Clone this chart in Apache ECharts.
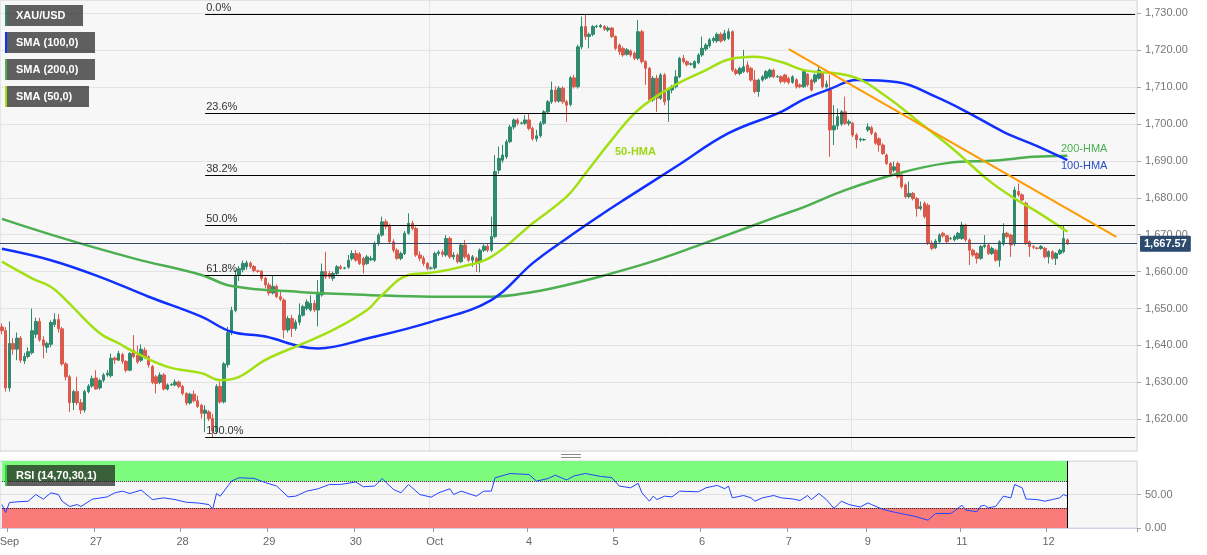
<!DOCTYPE html>
<html><head><meta charset="utf-8">
<script src="https://cdn.jsdelivr.net/npm/echarts/dist/echarts.min.js"></script>
<style>html,body{margin:0;padding:0;background:#fff}#c{width:1207px;height:555px}</style>
</head><body><div id="c"></div>
<script>
// ---- hourly candles [open, close, low, high], grouped by trading day ----
const sep26 = [[1645,1644,1643,1646],[1644,1628.5,1627.5,1645],[1628.5,1640.5,1627.5,1646.5],[1640.5,1639,1637.5,1642],[1639,1642,1636,1643.5],[1642,1636,1635.3,1642.5],[1635.8,1637,1635,1638],[1637,1638.3,1636.5,1639.5],[1638,1644,1637.5,1650],[1643,1646.5,1642,1647.5],[1646.5,1641.5,1641,1647.5],[1641.5,1640,1636.5,1642.5],[1639.5,1640.5,1638,1641],[1640.3,1646.2,1639.5,1646.8],[1645.7,1647,1645,1648.7],[1647,1644.5,1643.5,1648.5],[1644.5,1635,1634.5,1645],[1635,1631.5,1630.5,1635.5],[1631.5,1624.5,1622,1632],[1624.5,1627.5,1622.5,1628],[1627.5,1624.5,1623.8,1631.5],[1624.5,1622.5,1621.4,1625.5],[1622.5,1627.5,1621.8,1628],[1627.5,1629,1627,1629.5],[1629,1631,1628.5,1631.8]];
const sep27 = [[1631.2,1628.2,1628,1633.3],[1628.5,1630.5,1628,1631],[1630.6,1632,1630,1632.5],[1632,1632.5,1631.5,1633.3],[1631.8,1636.5,1631.3,1637.8],[1636.6,1636.1,1635,1637],[1636,1637.8,1635.8,1638.5],[1637.5,1635.7,1635,1638],[1635.7,1633.3,1632.7,1636],[1633.3,1637.8,1633,1638.2],[1638.7,1637,1636.5,1642.8],[1637.3,1635.5,1635,1640],[1636,1639,1635.5,1640.3],[1638.7,1636.9,1636.5,1639.5],[1636.9,1634.7,1634,1637.3],[1634.3,1630,1629.5,1634.7],[1631.5,1629.7,1627,1632],[1630,1632,1629.5,1632.7],[1632,1628.2,1627.8,1632.5],[1628.2,1629.3,1627.8,1629.7],[1629.3,1629.4,1629,1629.8],[1629.3,1630.1,1628.9,1630.8],[1630.1,1628.9,1628.4,1630.5]];
const sep28 = [[1628.9,1627,1626.5,1629.3],[1627,1624.4,1623.8,1627.3],[1624.4,1626.8,1624,1627.2],[1626.8,1625,1624.5,1627.8],[1625,1623.5,1623,1626.4],[1623.8,1621.6,1620.2,1624.2],[1621.6,1622.5,1616.5,1623.8],[1622,1620.2,1619.5,1622.5],[1620.2,1616.8,1614.9,1621.5],[1616.6,1628.9,1616,1629.5],[1628.9,1624.7,1624.2,1630.2],[1624.7,1635,1624.3,1635.5],[1634.8,1643.5,1634,1645],[1643.5,1649.5,1642.8,1650.5],[1649.5,1659,1649,1660.5],[1659,1660.8,1657.5,1661.5],[1660.5,1662.2,1659.8,1663],[1661.3,1662.4,1660.5,1663],[1662.3,1661.4,1660.8,1662.8],[1661.4,1660.3,1659.8,1661.8],[1660.2,1660.1,1659.7,1660.5],[1660.1,1658.2,1657.5,1660.4],[1658.2,1656.4,1655.5,1658.6]];
const sep29 = [[1656.4,1654.2,1653.5,1657],[1654.2,1656,1653.8,1659.1],[1656,1653.2,1652.8,1656.5],[1653.2,1652.5,1652,1655],[1652.3,1644.2,1641.9,1652.8],[1644.2,1647.3,1643.5,1648],[1647.3,1644.6,1642.3,1648.3],[1644.6,1646.3,1644,1647],[1646.3,1648.2,1645.5,1651.4],[1648.2,1650.5,1647.8,1651],[1650,1651.8,1649.5,1652.5],[1649.6,1651.4,1649.2,1653.6],[1651.4,1649.6,1649,1652.3],[1649.6,1654,1645.2,1657.7],[1653.7,1660,1653.2,1662.2],[1660,1658.6,1658,1665.4],[1659.5,1658.6,1658,1660.2],[1658.2,1659.5,1657.5,1660],[1659.5,1661.3,1659,1661.8],[1661.3,1660.9,1660.5,1661.8],[1660.9,1661,1660.6,1661.3],[1661.2,1663.1,1660.8,1664.5],[1663.5,1664.9,1663,1665.8]];
const sep30 = [[1664.9,1663.1,1662.7,1665.8],[1664.8,1662.2,1661.8,1665.3],[1663.6,1661.8,1659.5,1664],[1662.2,1664,1661.8,1664.5],[1663.2,1663.6,1662.8,1664.3],[1663.1,1667.6,1662.6,1668.2],[1667.6,1669.9,1667,1670.5],[1669.9,1673.5,1669.5,1674.9],[1673.5,1672.2,1671.5,1674.2],[1672.4,1668.1,1667.5,1673],[1668.1,1665.8,1665.2,1668.8],[1665.8,1663.6,1663.2,1666.3],[1663.6,1664.9,1663.1,1665.4],[1664.9,1670.4,1664.5,1671],[1670.4,1673.1,1670,1675.8],[1673.1,1671.7,1671.2,1673.8],[1671.7,1664.5,1664,1672.2],[1664.5,1663.6,1662.8,1665.5],[1663.6,1662.2,1661.5,1664.3],[1662.2,1660.9,1660.3,1662.6],[1660.9,1661,1660.5,1661.4]];
const oct3 = [[1661,1664.9,1660.5,1665.4],[1664.9,1665.3,1664.3,1665.8],[1665.3,1664.7,1664,1666],[1664.5,1669,1664,1669.9],[1669,1664,1663.5,1669.5],[1664,1664.5,1663.2,1665.3],[1664.5,1662.7,1662.2,1665],[1662.7,1667.2,1662.3,1667.7],[1667.2,1664,1663.5,1668.6],[1664.5,1663.1,1662.6,1665],[1663.1,1664,1661.3,1664.5],[1663.6,1662.2,1659.9,1664],[1662.7,1665.8,1659.8,1666.3],[1665.8,1666.9,1665.3,1667.4],[1666.9,1665.8,1665.3,1667.5],[1665.8,1669.5,1665.3,1674.9],[1669.5,1687.1,1669,1691.6],[1687.5,1690.7,1686.5,1693.9],[1690.2,1691.6,1689.5,1694.3],[1691.1,1695.2,1690.5,1695.8],[1695.2,1699.2,1694.8,1699.8],[1699.2,1701.1,1698.5,1701.5],[1701.1,1700.2,1699.6,1701.6],[1700.2,1700.3,1699.9,1700.6],[1700.2,1701.1,1699.7,1702.4]];
const oct4 = [[1701.1,1698.8,1698.3,1702.7],[1698.8,1696,1695.5,1699.3],[1696,1696.8,1695.2,1698.4],[1696.8,1700.2,1696.3,1700.8],[1700.2,1703.3,1699.8,1703.8],[1703.3,1706,1702.8,1706.5],[1706,1709.2,1705.5,1711.5],[1709.2,1706.2,1705.8,1710.2],[1706.2,1709.7,1705.8,1710.3],[1709.7,1706,1705.5,1710.2],[1706,1705.1,1700.6,1706.5],[1705.3,1712.5,1704.8,1713],[1712.5,1710.1,1709.6,1713.3],[1710.1,1720.9,1709.6,1721.5],[1720.9,1726.4,1720.3,1729.1],[1726.4,1723.7,1722.8,1729.8],[1723.7,1724.3,1720.5,1724.8],[1724.3,1726.4,1723.8,1726.8],[1726.4,1726.5,1726,1726.9],[1726.3,1726.7,1726,1727.1],[1726.4,1725.7,1725.2,1726.8],[1725.5,1726,1725,1726.5],[1726,1723.7,1723.3,1726.3]];
const oct5 = [[1723.7,1720.5,1720,1724],[1721.4,1719.6,1718.7,1721.8],[1720.5,1718.7,1718.2,1721],[1718.9,1720.1,1718.5,1720.6],[1719.8,1718.7,1718.2,1720.2],[1719.2,1717.8,1717.3,1719.6],[1717.8,1725,1717.3,1728.2],[1725,1716.9,1716.4,1725.5],[1716.9,1715.1,1710.6,1717.3],[1715.1,1706.5,1706,1715.5],[1706.5,1712.4,1706,1713],[1712.4,1707,1703.3,1713.3],[1707,1713.3,1706.5,1713.8],[1713.3,1706,1705.1,1713.8],[1706.5,1709.2,1700.6,1709.7],[1709.2,1710.1,1708.3,1710.6],[1710.1,1712.8,1709.6,1714.6],[1712.8,1717.8,1712.4,1718.2],[1717.8,1716.9,1716.4,1718.7],[1716.9,1716.1,1715.6,1717.3],[1716.2,1716.3,1715.8,1716.7],[1715.3,1716.9,1715,1717.3],[1716.6,1718.7,1716.2,1719.2]];
const oct6 = [[1718.7,1720.5,1718.2,1723.7],[1720.3,1721.4,1719.8,1721.9],[1721.2,1722.8,1720.7,1723.3],[1722.6,1723.2,1722,1723.7],[1722.5,1724.3,1722,1724.8],[1724.3,1722.5,1722,1724.8],[1722.8,1724.6,1722.4,1725.5],[1723.2,1725,1722.8,1725.9],[1725,1714.6,1714.1,1725.4],[1714.6,1713.7,1713.2,1715.1],[1713.7,1715.1,1713.2,1715.5],[1714.2,1715.5,1713.8,1720.1],[1716,1714.2,1713.8,1717],[1715.1,1711.9,1711.5,1715.5],[1711.9,1708.8,1708.3,1714.6],[1708.8,1711.9,1707.4,1712.3],[1711.9,1712.8,1711.5,1713.3],[1712.4,1714.2,1712,1714.6],[1712.8,1714.6,1712.4,1715],[1714.6,1712.8,1712.4,1715],[1712.8,1712.9,1712.5,1713.2],[1712.8,1711.5,1711,1713.2],[1713.3,1711.5,1711,1713.6]];
const oct7 = [[1712.4,1711.3,1710.8,1712.8],[1711.3,1712.8,1710.9,1713.2],[1712,1710.1,1709.6,1712.4],[1710.6,1710.1,1709.7,1711],[1710.1,1714.2,1709.8,1714.6],[1713.5,1710.6,1710.1,1713.8],[1711.9,1709.2,1708.8,1712.3],[1711.5,1713.3,1711,1713.7],[1712.4,1714.6,1712,1715.5],[1713.7,1710.1,1709.6,1714.2],[1710.1,1710.8,1709.6,1711.8],[1709.2,1698.4,1691.1,1713.3],[1698.4,1699.5,1694.3,1705.1],[1699.5,1702,1698.5,1704.2],[1700,1703.3,1699.5,1703.8],[1703.3,1700.2,1699.7,1707.4],[1700.2,1700.6,1699.5,1701.2],[1700.2,1697,1696.5,1700.6],[1697,1695.7,1693.4,1697.5],[1695.7,1695.9,1695.2,1696.3],[1695.7,1695.8,1695.4,1696.1]];
const oct10 = [[1698.4,1699.2,1697.9,1700.2],[1699,1697.5,1697,1699.5],[1697.5,1694.8,1694.4,1697.9],[1696,1694.3,1692.5,1696.4],[1694.3,1692,1691.6,1694.8],[1691.6,1689.3,1688.9,1692],[1689.3,1686.6,1685.7,1689.7],[1687.5,1688.4,1687,1689.8],[1689.3,1685.7,1685.2,1689.8],[1686.2,1683,1682.5,1686.6],[1683.5,1680.3,1679.8,1683.9],[1680.3,1681.2,1679.9,1684.4],[1681.2,1679.8,1679.3,1681.6],[1679.8,1677.1,1674.9,1680.2],[1677.1,1677.6,1676.6,1679],[1678.5,1674.9,1674.4,1679],[1678,1667.7,1667.2,1678.5],[1667.7,1666.3,1665.8,1668.4],[1666.5,1668.3,1666.1,1668.8],[1668.1,1669.9,1667.7,1670.4],[1670.4,1669.7,1669.2,1670.8],[1669.7,1668.1,1667.7,1670],[1668.9,1669,1668.6,1669.4],[1668.6,1669.5,1668.2,1669.9],[1669,1670.4,1668.6,1670.8]];
const oct11 = [[1669,1672.6,1668.6,1673.5],[1672.6,1668.6,1668.1,1673],[1668.6,1665.8,1661.8,1669],[1665.8,1664.5,1664,1666.2],[1664.9,1663.6,1662.2,1665.3],[1663.6,1666.8,1663.2,1667.2],[1666.8,1667.2,1666.3,1669.9],[1667.2,1664.9,1664.5,1667.6],[1664.9,1666.3,1664.5,1666.8],[1665.8,1663.1,1662.7,1666.2],[1663.1,1668.1,1661.3,1668.5],[1667.5,1670.4,1667,1673.1],[1670.4,1669.5,1669,1670.8],[1669.9,1667.2,1664,1670.3],[1667.5,1682.1,1667,1683],[1681.7,1680.8,1680.3,1683.9],[1680.8,1679.4,1678.9,1681.2],[1678.5,1667.7,1667.2,1679],[1668.1,1666.8,1664,1668.5],[1666.8,1666.6,1666.1,1667.2],[1666.4,1666.3,1666,1666.7],[1666.3,1666.8,1665.9,1667.2],[1666.3,1664,1663.6,1666.7]];
const oct12 = [[1664,1665.4,1662.2,1665.8],[1665.4,1663.6,1663.2,1665.8],[1663.6,1664.9,1661.8,1665.3],[1664.9,1665.8,1664.5,1666.2],[1665.4,1669,1665,1672.6],[1668.6,1667.57,1667.2,1669]];

// ---- moving averages [candle index, value] ----
const sma50Points = [[0,1662.7],[8,1658.2],[13,1655.9],[17,1652.3],[26,1643.3],[31,1640.6],[35,1638.3],[44,1634.2],[53,1632.5],[58,1630.6],[63,1631.5],[70,1636.1],[79,1640.1],[88,1644.2],[97,1649.6],[101,1653.7],[108,1659.1],[114,1659.7],[122,1661.3],[130,1664.0],[141,1673.1],[150,1680.3],[155,1686.6],[162,1695.7],[169,1703.8],[178,1710.1],[187,1714.6],[193,1717.5],[200,1718.2],[207,1716.8],[213,1714.6],[226,1712.8],[235,1707.4],[244,1700.2],[253,1692.9],[262,1684.8],[269,1679.8],[275,1676.2],[283,1670.8]];
const sma100Points = [[0,1666.2],[13,1663.1],[26,1658.6],[39,1653.2],[53,1647.8],[61,1643.7],[70,1642.4],[79,1639.8],[84,1639.2],[97,1641.9],[114,1646.4],[130,1652.3],[141,1662.3],[150,1669.0],[159,1675.3],[165,1679.3],[179,1688.4],[193,1697.5],[207,1703.3],[213,1706.7],[220,1709.5],[227,1711.9],[238,1711.3],[248,1707.4],[257,1702.9],[266,1697.9],[275,1694],[283,1690.2]];
const sma200Points = [[0,1674.3],[17,1668.8],[35,1663.6],[53,1659.1],[61,1656.1],[79,1654.5],[97,1653.7],[114,1653.2],[130,1653.2],[141,1654.5],[150,1656.4],[159,1658.7],[172,1662.5],[185,1667.1],[199,1672.3],[207,1675.3],[213,1677.5],[224,1682.1],[238,1686.6],[251,1689.4],[264,1690.1],[274,1691.1],[283,1691.4]];
const trendPoints = [[209,1720.3],[296,1669.4]];
const rsiPoints = [[0,35],[1,23],[2,38],[4,39],[7,40],[9,50],[11,43],[13,52.5],[15,50],[16,40],[18,32],[20,35],[21,32],[24,43],[28,46.5],[30,52.5],[32,55],[34,51.5],[37,56.6],[40,42.4],[43,45],[46,42.4],[49,38.4],[52,37.4],[55,35],[56,28.3],[57,51.5],[58,47.5],[61,70],[63,75],[67,74],[70,67.7],[73,62.6],[76,46.5],[78,47.5],[81,55],[84,58.6],[87,65],[90,65],[94,68.7],[96,61.6],[99,62.6],[101,73.7],[104,57.6],[106,52.5],[108,65],[111,50],[114,46],[116,52.5],[119,58.6],[120,50],[122,55],[126,47.5],[128,55],[130,55],[131,75],[135,81.3],[140,79.8],[142,70],[145,73.7],[147,78.8],[150,71.7],[152,77.8],[155,81.3],[159,77],[162,75.3],[164,62.6],[167,60],[169,66.7],[170,52.5],[172,40],[173,47.5],[174,42.4],[176,47.5],[178,46.5],[180,55],[185,54],[187,60],[190,63.6],[192,58.6],[193,62.6],[194,45],[197,48.5],[199,45],[200,40],[202,45],[205,48.5],[207,45],[210,43.4],[212,41],[214,48.5],[215,42.4],[217,51.5],[219,42.4],[221,29.3],[223,40],[225,35],[228,31.3],[230,37.4],[231,35],[234,27.8],[237,23.7],[240,20.2],[243,16.7],[246,11.6],[248,21.7],[252,21.7],[253,25.3],[255,34],[256,26.8],[259,24.2],[260,32.8],[261,33.8],[262,30],[264,32.3],[266,47.5],[268,45],[269,65],[271,60],[272,43.4],[275,42.4],[277,40],[279,42.4],[281,45],[282,50],[283,47.5]];

// ---- levels and labels ----
const fibLevels = [1729.8, 1702.9, 1686.1, 1672.5, 1658.9, 1615.0];
const fibLabels = ['0.0%', '23.6%', '38.2%', '50.0%', '61.8%', '100.0%'];
const fibStart = 54, fibEnd = 301;
const lastPrice = 1667.57;
const rsiUpper = 70, rsiLower = 30;
const tickIndex = [2, 25, 48, 71, 94, 115, 140, 163, 186, 209, 230, 255, 278];
const tickLabels = ['Sep', '27', '28', '29', '30', 'Oct', '4', '5', '6', '7', '9', '11', '12'];
const weekSplits = [114, 226];
const slotCount = 302;

const candles = [].concat(sep26, sep27, sep28, sep29, sep30, oct3, oct4, oct5, oct6, oct7, oct10, oct11, oct12);
const categories = Array.from({length: slotCount}, (_, i) => String(i));
const lastIdx = candles.length - 1;

const FONT = 'Liberation Sans, Arial, sans-serif';
const UP = '#2f8a6e', DOWN = '#dc5a4b';
const C50 = '#a2e012', C100 = '#1030ff', C200 = '#4caf50';

const fmt = v => v.toLocaleString('en-US', {minimumFractionDigits: 2, maximumFractionDigits: 2});

const fibLines = fibLevels.map((lv, k) => [
  {coord: [fibStart, lv], label: {show: true, formatter: fibLabels[k], position: 'insideStartTop', distance: [1, 1], color: '#333', fontSize: 11, fontFamily: FONT}},
  {coord: [fibEnd, lv]}
]);

function labelBox(x, y, w, text, barColor) {
  return {type: 'group', x: x, y: y, zlevel: 1, children: [
    {type: 'rect', z: 100, shape: {x: 0, y: 0, width: w, height: 21}, style: {fill: 'rgba(30,30,30,0.7)'}},
    {type: 'rect', z: 101, shape: {x: 0, y: 0, width: 2, height: 21}, style: {fill: barColor}},
    {type: 'text', z: 102, x: 11, y: 11, style: {text: text, fill: '#fff', font: 'bold 11px ' + FONT, verticalAlign: 'middle'}}
  ]};
}
const legendItems = [['XAU/USD', UP, 78], ['SMA (100,0)', C100, 90], ['SMA (200,0)', C200, 90], ['SMA (50,0)', C50, 84]];
const graphics = [];
legendItems.forEach((it, k) => graphics.push(labelBox(5, 5 + 27 * k, it[2], it[0], it[1])));
graphics.push(labelBox(5, 465, 110, 'RSI (14,70,30,1)', '#2ecc40'));
graphics.push({type: 'text', x: 615, y: 152, z: 50, style: {text: '50-HMA', fill: '#9fd813', font: 'bold 11px ' + FONT, verticalAlign: 'middle'}});
graphics.push({type: 'text', x: 1061, y: 149, z: 50, style: {text: '200-HMA', fill: C200, font: '11px ' + FONT, verticalAlign: 'middle'}});
graphics.push({type: 'text', x: 1061, y: 166, z: 50, style: {text: '100-HMA', fill: '#2a4ec8', font: '11px ' + FONT, verticalAlign: 'middle'}});
graphics.push({type: 'line', shape: {x1: 561, y1: 454.5, x2: 581, y2: 454.5}, style: {stroke: '#888', lineWidth: 1}});
graphics.push({type: 'line', shape: {x1: 561, y1: 457.5, x2: 581, y2: 457.5}, style: {stroke: '#888', lineWidth: 1}});

const splitFn = (i) => weekSplits.indexOf(i) >= 0;
const tickFn = (i) => tickIndex.indexOf(i) >= 0;

const chart = echarts.init(document.getElementById('c'), null, {renderer: 'canvas'});
chart.setOption({
  animation: false,
  backgroundColor: '#ffffff',
  textStyle: {fontFamily: FONT},
  grid: [
    {left: 0, top: 0, width: 1137, height: 451, show: true, backgroundColor: '#f7f7f7', borderColor: '#d0d6e8', borderWidth: 1, outerBoundsMode: 'none', containLabel: false},
    {left: 0, top: 461, width: 1137, height: 67, show: true, backgroundColor: '#f7f7f7', borderColor: '#d0d6e8', borderWidth: 1, outerBoundsMode: 'none', containLabel: false}
  ],
  xAxis: [
    {type: 'category', gridIndex: 0, data: categories, boundaryGap: true,
     axisLine: {show: false}, axisTick: {show: false}, axisLabel: {show: false},
     splitLine: {show: true, interval: splitFn, lineStyle: {color: '#e4e4e4'}}},
    {type: 'category', gridIndex: 1, data: categories, boundaryGap: true,
     axisLine: {show: true, lineStyle: {color: '#ccd2e3'}},
     axisTick: {show: true, interval: tickFn, length: 4, lineStyle: {color: '#999'}},
     axisLabel: {interval: tickFn, formatter: (v, i) => tickLabels[tickIndex.indexOf(i)] || '', color: '#666', fontSize: 11, margin: 8, fontFamily: FONT},
     splitLine: {show: true, interval: splitFn, lineStyle: {color: '#e4e4e4'}}}
  ],
  yAxis: [
    {type: 'value', gridIndex: 0, position: 'right', min: 1611.4, max: 1733.6, splitNumber: 12,
     axisLine: {show: false}, axisTick: {show: true, length: 4, lineStyle: {color: '#aaa'}},
     axisLabel: {showMinLabel: false, showMaxLabel: false, color: '#777', fontSize: 11, margin: 8, fontFamily: FONT, formatter: fmt},
     splitLine: {show: true, lineStyle: {color: '#e3e3e3'}}},
    {type: 'value', gridIndex: 1, position: 'right', min: 0, max: 100, interval: 50,
     axisLine: {show: false}, axisTick: {show: true, length: 4, lineStyle: {color: '#aaa'}},
     axisLabel: {showMaxLabel: false, color: '#777', fontSize: 11, margin: 8, fontFamily: FONT, formatter: v => v.toFixed(2)},
     splitLine: {show: true, lineStyle: {color: '#e0e0e0'}}}
  ],
  graphic: graphics,
  series: [
    {type: 'candlestick', name: 'XAU/USD', xAxisIndex: 0, yAxisIndex: 0, data: candles, barWidth: 3, z: 2,
     itemStyle: {color: UP, color0: DOWN, borderColor: UP, borderColor0: DOWN, borderWidth: 1},
     markLine: {silent: true, symbol: ['none', 'none'], animation: false,
       lineStyle: {color: '#000', width: 1, type: 'solid'},
       data: fibLines.concat([
         {yAxis: lastPrice, lineStyle: {color: '#34496a', width: 1, type: 'solid'},
          label: {show: true, position: 'end', distance: 3, formatter: fmt(lastPrice), color: '#fff', fontWeight: 'bold', fontSize: 11, fontFamily: FONT, backgroundColor: '#2b4a6d', padding: [3, 4, 2, 4], borderRadius: 1}}
       ])}},
    {type: 'line', name: 'SMA200', xAxisIndex: 0, yAxisIndex: 0, data: sma200Points, smooth: 0.4, showSymbol: false, z: 4, lineStyle: {color: C200, width: 2.5}},
    {type: 'line', name: 'SMA100', xAxisIndex: 0, yAxisIndex: 0, data: sma100Points, smooth: 0.4, showSymbol: false, z: 4, lineStyle: {color: C100, width: 2.5}},
    {type: 'line', name: 'SMA50', xAxisIndex: 0, yAxisIndex: 0, data: sma50Points, smooth: 0.4, showSymbol: false, z: 4, lineStyle: {color: C50, width: 2.5}},
    {type: 'line', name: 'Trend', xAxisIndex: 0, yAxisIndex: 0, data: trendPoints, showSymbol: false, z: 5, lineStyle: {color: '#ff9a00', width: 2}},
    {type: 'line', name: 'RSI', xAxisIndex: 1, yAxisIndex: 1, data: rsiPoints, showSymbol: false, z: 5, lineStyle: {color: '#2244ff', width: 1},
     markArea: {silent: true, data: [
       [{xAxis: 0, yAxis: rsiUpper, itemStyle: {color: '#7dfb7d'}}, {xAxis: lastIdx, yAxis: 100}],
       [{xAxis: 0, yAxis: 0, itemStyle: {color: '#fb7b7b'}}, {xAxis: lastIdx, yAxis: rsiLower}]
     ]},
     markLine: {silent: true, symbol: ['none', 'none'], label: {show: false}, data: [
       [{coord: [0, rsiUpper], lineStyle: {color: '#222', width: 1, type: 'dotted'}}, {coord: [lastIdx, rsiUpper]}],
       [{coord: [0, rsiLower], lineStyle: {color: '#222', width: 1, type: 'dotted'}}, {coord: [lastIdx, rsiLower]}],
       [{coord: [lastIdx, 0], lineStyle: {color: '#000', width: 1, type: 'solid'}}, {coord: [lastIdx, 100]}]
     ]}}
  ]
});
</script></body></html>
